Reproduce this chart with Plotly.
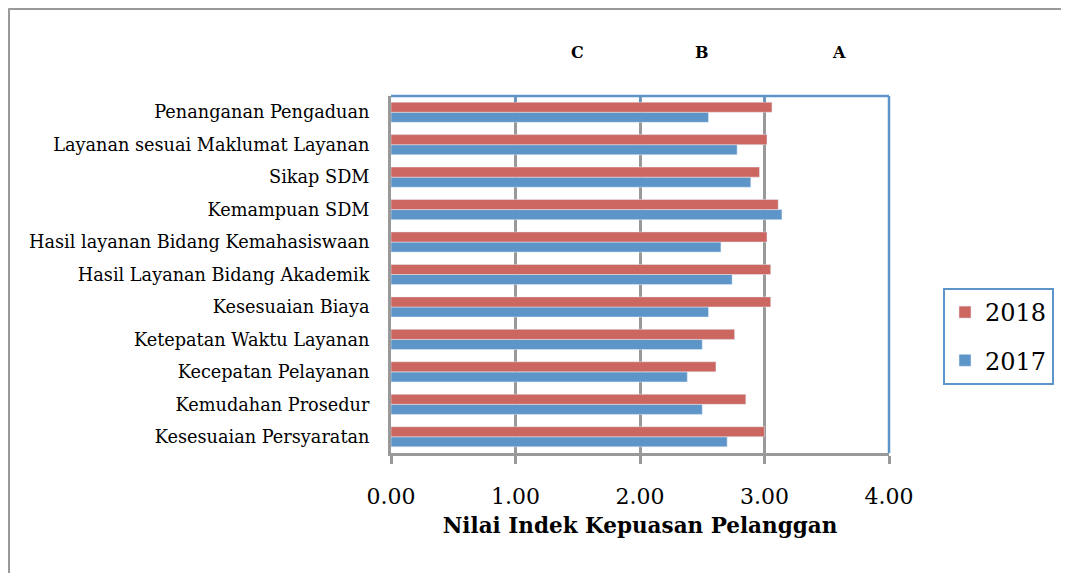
import plotly.graph_objects as go

categories = [
    "Kesesuaian Persyaratan",
    "Kemudahan Prosedur",
    "Kecepatan Pelayanan",
    "Ketepatan Waktu Layanan",
    "Kesesuaian Biaya",
    "Hasil Layanan Bidang Akademik",
    "Hasil layanan Bidang Kemahasiswaan",
    "Kemampuan SDM",
    "Sikap SDM",
    "Layanan sesuai Maklumat Layanan",
    "Penanganan Pengaduan",
]
values_2017 = [2.70, 2.50, 2.38, 2.50, 2.55, 2.74, 2.65, 3.14, 2.89, 2.78, 2.55]
values_2018 = [3.00, 2.85, 2.61, 2.76, 3.05, 3.05, 3.02, 3.11, 2.96, 3.02, 3.06]
grade_labels = ["C", "B", "A"]
grade_positions = [1.5, 2.5, 3.6]
x_ticks = [0, 1, 2, 3, 4]
x_tick_text = ["0.00", "1.00", "2.00", "3.00", "4.00"]

RED = "#CC6660"
BLUE = "#5E95C9"
GRAY = "#999999"
SERIF = "DejaVu Serif"

fig = go.Figure()
fig.add_trace(go.Bar(y=categories, x=values_2017, orientation="h", name="2017",
                     marker_color=BLUE, legendgroup="a", legendrank=2))
fig.add_trace(go.Bar(y=categories, x=values_2018, orientation="h", name="2018",
                     marker_color=RED, legendgroup="b", legendrank=1))

# the page body has an 8px margin, so figure coords = screen coords - 8
OFF = 8
W, H = 1069 - OFF, 581 - 2 * OFF
L = 391 - OFF
T = 96 - OFF
R = W - (889 - OFF)
B = H - (453 - OFF)
pw, ph = W - L - R, H - T - B

def px_x(p):
    return (p - OFF - L) / pw

def px_y(p):
    return (H - B - (p - OFF)) / ph

shapes = []
# outer frame (left and top)
shapes.append(dict(type="line", xref="paper", yref="paper", x0=px_x(8.5), x1=px_x(1080),
                   y0=px_y(8.5), y1=px_y(8.5), line=dict(color=GRAY, width=3)))
shapes.append(dict(type="line", xref="paper", yref="paper", x0=px_x(8.5), x1=px_x(8.5),
                   y0=px_y(8.5), y1=px_y(600), line=dict(color=GRAY, width=3)))
# top blue border with ticks, right blue border
shapes.append(dict(type="line", xref="paper", yref="paper", x0=0, x1=1, y0=1, y1=1,
                   line=dict(color=BLUE, width=2.5)))
shapes.append(dict(type="line", xref="paper", yref="paper", x0=1, x1=1, y0=0, y1=1,
                   line=dict(color=BLUE, width=2.5)))
for t in x_ticks[1:-1]:
    shapes.append(dict(type="line", xref="x", yref="paper", x0=t, x1=t, y0=1, y1=1 - 6 / ph,
                       line=dict(color=BLUE, width=2)))

annotations = []
for lab, pos in zip(grade_labels, grade_positions):
    annotations.append(dict(x=pos, xref="x", y=px_y(52), yref="paper", text=lab,
                            showarrow=False, xanchor="center", yanchor="middle",
                            font=dict(family=SERIF, size=16, color="black", weight="bold")))

fig.update_layout(
    width=W, height=H,
    margin=dict(l=L, r=R, t=T, b=B),
    paper_bgcolor="white", plot_bgcolor="white",
    barmode="group", bargap=0.38, bargroupgap=0,
    shapes=shapes, annotations=annotations,
    showlegend=True,
    legend=dict(x=px_x(943), y=px_y(288), xanchor="left", yanchor="top",
                tracegroupgap=14,
                bordercolor=BLUE, borderwidth=2, bgcolor="white",
                font=dict(family=SERIF, size=24, color="black")),
    xaxis=dict(range=[0, 4], tickvals=x_ticks, ticktext=x_tick_text,
               showgrid=True, gridcolor=GRAY, gridwidth=2.5,
               showline=True, linecolor=GRAY, linewidth=2.5,
               ticks="outside", ticklen=8, tickcolor=GRAY, tickwidth=2.5,
               ticklabelstandoff=14, zeroline=False,
               tickfont=dict(family=SERIF, size=22, color="black"),
               title=dict(text="Nilai Indek Kepuasan Pelanggan", standoff=10,
                          font=dict(family=SERIF, size=21.5, color="black", weight="bold"))),
    yaxis=dict(categoryorder="array", categoryarray=categories,
               range=[-0.5, 10.5], showgrid=False, zeroline=False,
               showline=True, linecolor=GRAY, linewidth=3,
               ticks="", ticklabelstandoff=15,
               tickfont=dict(family=SERIF, size=17.7, color="black")),
)

fig.write_html("out.html")
